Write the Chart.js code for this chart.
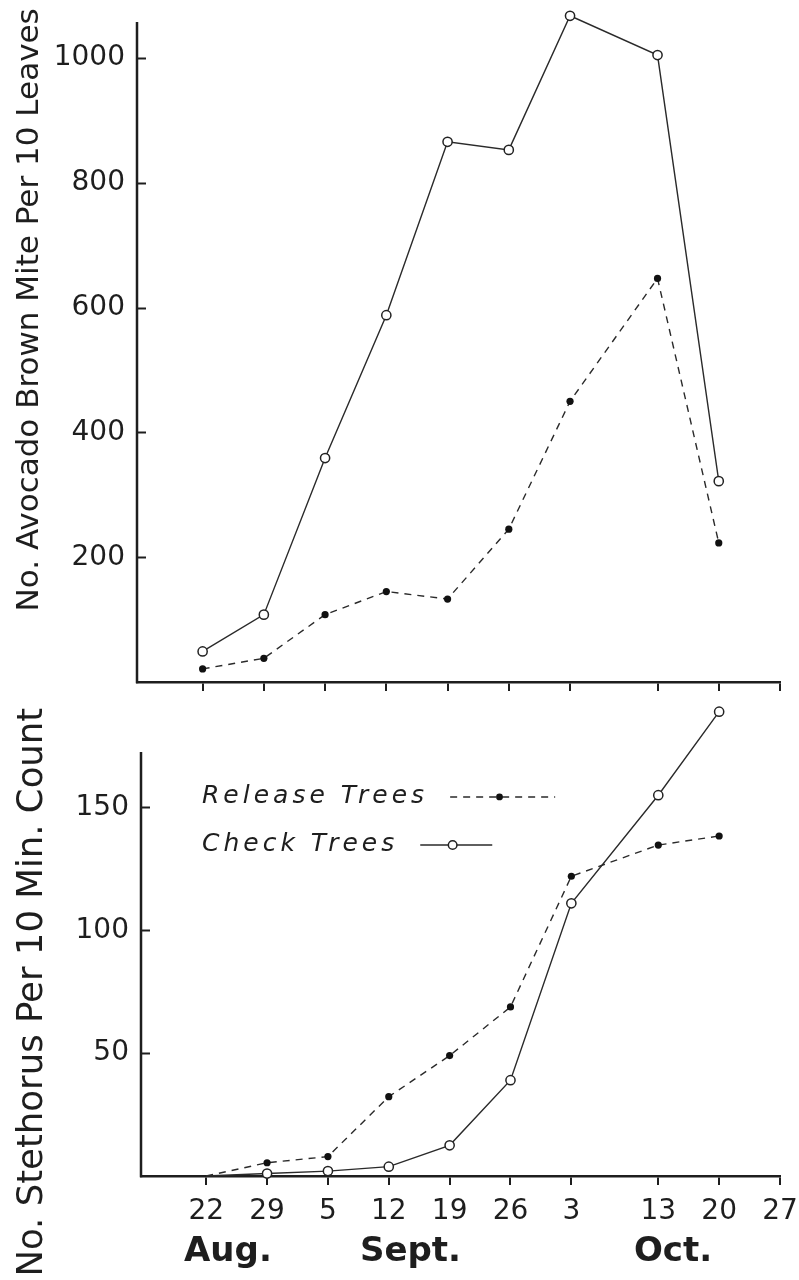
<!DOCTYPE html>
<html><head><meta charset="utf-8">
<script src="https://cdn.jsdelivr.net/npm/chart.js@4/dist/chart.umd.min.js"></script>
<style>
html,body{margin:0;padding:0;background:#fff;}
#wrap{position:relative;width:799px;height:1280px;overflow:hidden;}
#topChart{position:absolute;left:0;top:0;}
#botChart{position:absolute;left:0;top:680px;}
</style></head><body>
<div id="wrap">
<canvas id="topChart" width="799" height="700"></canvas>
<canvas id="botChart" width="799" height="600"></canvas>
</div>
<script>
// ---- data (x = days after Aug. 22) ----
const sampleDays = [0, 7, 14, 21, 28, 35, 42, 52, 59];
const xTickDays = [0, 7, 14, 21, 28, 35, 42, 52, 59, 66];
const xTickLabels = ['22', '29', '5', '12', '19', '26', '3', '13', '20', '27'];
const monthDays = [2.5, 23.5, 53.7];
const monthLabels = ['Aug.', 'Sept.', 'Oct.'];
const miteRelease = [21, 38, 108, 145, 133, 245, 450, 647, 223];
const miteCheck = [49, 108, 359, 588, 866, 853, 1068, 1005, 322];
const stethRelease = [0, 5.4, 7.9, 32.3, 49, 68.8, 122, 134.7, 138.4];
const stethCheck = [0, 1, 2, 3.8, 12.5, 39, 111, 155, 189];
const miteTicks = [200, 400, 600, 800, 1000];
const stethTicks = [50, 100, 150];
const seriesNames = ['Release Trees', 'Check Trees'];
const miteTitle = 'No. Avocado Brown Mite Per 10 Leaves';
const stethTitle = 'No. Stethorus Per 10 Min. Count';

const FONT = "'DejaVu Sans', 'Liberation Sans', sans-serif";
const INK = '#1e1e1e';
const X_MIN = -7.5, X_MAX = 66;

const pts = (vals) => vals.map((v, i) => ({x: sampleDays[i], y: v}));

function releaseDs(vals, hideFirst) {
  return {
    label: seriesNames[0], data: pts(vals),
    borderColor: '#2a2a2a', borderWidth: 1.4, borderDash: [7, 6],
    pointRadius: vals.map((v, i) => (hideFirst && i === 0) ? 0 : 3.6),
    pointBackgroundColor: '#111', pointBorderColor: '#111', pointBorderWidth: 0,
    tension: 0, clip: false
  };
}
function checkDs(vals, hideFirst) {
  return {
    label: seriesNames[1], data: pts(vals),
    borderColor: '#2a2a2a', borderWidth: 1.4,
    pointRadius: vals.map((v, i) => (hideFirst && i === 0) ? 0 : 4.6),
    pointBackgroundColor: '#fff', pointBorderColor: '#222', pointBorderWidth: 1.5,
    tension: 0, clip: false
  };
}

// y axis line (to the axis' drawn top) with inward tick marks
const yAxisLine = {
  id: 'yAxisLine',
  afterDraw(chart, args, opts) {
    const s = chart.scales.y, ctx = chart.ctx;
    const x = chart.chartArea.left;
    ctx.save();
    ctx.strokeStyle = INK; ctx.lineCap = 'butt';
    ctx.lineWidth = 2.5;
    ctx.beginPath();
    ctx.moveTo(x, s.getPixelForValue(0) + 1.2);
    ctx.lineTo(x, s.getPixelForValue(opts.top));
    ctx.stroke();
    ctx.lineWidth = 2;
    s.ticks.forEach(t => {
      const y = Math.round(s.getPixelForValue(t.value)) + 0.5;
      ctx.beginPath(); ctx.moveTo(x, y); ctx.lineTo(x + opts.length, y); ctx.stroke();
    });
    ctx.restore();
  }
};

const lineLegend = {
  id: 'lineLegend',
  afterDraw(chart, args, opts) {
    if (!opts.items) return;
    const ctx = chart.ctx, area = chart.chartArea, s = chart.scales.y;
    const top = s.getPixelForValue(opts.axisTop);
    ctx.save();
    ctx.font = opts.font; ctx.fillStyle = INK; ctx.textBaseline = 'middle';
    if ('letterSpacing' in ctx) ctx.letterSpacing = opts.letterSpacing;
    opts.items.forEach((it, i) => {
      const ds = chart.data.datasets[it.dataset];
      const x = area.left + opts.x, y = top + opts.y + i * opts.rowGap;
      ctx.fillStyle = INK;
      ctx.fillText(ds.label, x, y);
      const w = ctx.measureText(ds.label).width;
      const sx = x + w + opts.gap;
      ctx.strokeStyle = ds.borderColor; ctx.lineWidth = ds.borderWidth;
      ctx.setLineDash(ds.borderDash || []);
      ctx.beginPath(); ctx.moveTo(sx, y); ctx.lineTo(sx + it.len, y); ctx.stroke();
      ctx.setLineDash([]);
      ctx.fillStyle = ds.pointBackgroundColor; ctx.strokeStyle = ds.pointBorderColor;
      ctx.lineWidth = ds.pointBorderWidth;
      Chart.helpers.drawPoint(ctx, {pointStyle: 'circle', radius: it.r, rotation: 0, borderWidth: ds.pointBorderWidth}, sx + it.len * it.at, y);
    });
    ctx.restore();
  }
};

function noPad(s) { s.paddingLeft = 0; s.paddingRight = 0; s.paddingTop = 0; s.paddingBottom = 0; }

function xAxis(showLabels, height) {
  return {
    type: 'linear', position: 'bottom', min: X_MIN, max: X_MAX,
    afterBuildTicks: (s) => { s.ticks = xTickDays.map(v => ({value: v})); },
    afterFit: (s) => { s.height = height; noPad(s); },
    grid: {drawOnChartArea: false, drawTicks: true, tickLength: 9, color: INK, lineWidth: 2},
    border: {display: true, color: INK, width: 2.5},
    ticks: {
      display: showLabels, autoSkip: false, maxRotation: 0, padding: 10,
      color: INK, font: {family: FONT, size: 28},
      callback: (v) => xTickLabels[xTickDays.indexOf(v)]
    }
  };
}

function yAxis(max, tickVals, width) {
  return {
    type: 'linear', position: 'left', min: 0, max: max,
    afterBuildTicks: (s) => { s.ticks = tickVals.map(v => ({value: v})); },
    afterFit: (s) => { s.width = width; noPad(s); },
    grid: {drawOnChartArea: false, drawTicks: false},
    border: {display: false},
    ticks: {padding: 12, color: INK, font: {family: FONT, size: 28}, callback: (v) => String(v)}
  };
}

new Chart(document.getElementById('topChart'), {
  type: 'line',
  data: {datasets: [releaseDs(miteRelease, false), checkDs(miteCheck, false)]},
  options: {
    responsive: false, animation: false, devicePixelRatio: 1,
    layout: {autoPadding: false, padding: {top: 8.3, right: 19, left: 0, bottom: 0}},
    plugins: {
      legend: {display: false}, tooltip: {enabled: false},
      title: {display: true, position: 'left', align: 'end', text: miteTitle, color: INK,
        font: {family: FONT, size: 31, weight: 'normal'}, padding: {top: 11, bottom: 0}},
      yAxisLine: {length: 9, top: 1058}
    },
    scales: {
      x: xAxis(false, 18),
      y: yAxis(1080, miteTicks, 137 - (31 * 1.2 + 11))
    }
  },
  plugins: [yAxisLine]
});

new Chart(document.getElementById('botChart'), {
  type: 'line',
  data: {datasets: [releaseDs(stethRelease, true), checkDs(stethCheck, true)]},
  options: {
    responsive: false, animation: false, devicePixelRatio: 1,
    layout: {autoPadding: false, padding: {top: 24.3, right: 19, left: 0, bottom: 0}},
    plugins: {
      legend: {display: false}, tooltip: {enabled: false},
      title: {display: true, position: 'left', align: 'center', text: stethTitle, color: INK,
        font: {family: FONT, size: 35.5, weight: 'normal'}, padding: {top: 11, bottom: 0}},
      yAxisLine: {length: 9, top: 172.6},
      lineLegend: {
        font: "italic 25px 'DejaVu Sans', sans-serif", letterSpacing: '4px', axisTop: 172.6,
        x: 61, y: 45, rowGap: 48, gap: 22,
        items: [{dataset: 0, len: 105, at: 0.47, r: 3.4}, {dataset: 1, len: 72, at: 0.45, r: 4.3}]
      }
    },
    scales: {
      x: xAxis(true, 52),
      month: {
        type: 'linear', position: 'bottom', min: X_MIN, max: X_MAX,
        afterBuildTicks: (s) => { s.ticks = monthDays.map(v => ({value: v})); },
        afterFit: (s) => { s.height = 52; noPad(s); },
        grid: {display: false, drawTicks: false},
        border: {display: false},
        ticks: {autoSkip: false, maxRotation: 0, padding: 4, color: INK,
          font: {family: FONT, size: 34, weight: 'bold'},
          callback: (v) => monthLabels[monthDays.indexOf(v)]}
      },
      y: yAxis(192, stethTicks, 141 - (35.5 * 1.2 + 11))
    }
  },
  plugins: [yAxisLine, lineLegend]
});
</script>
</body></html>
